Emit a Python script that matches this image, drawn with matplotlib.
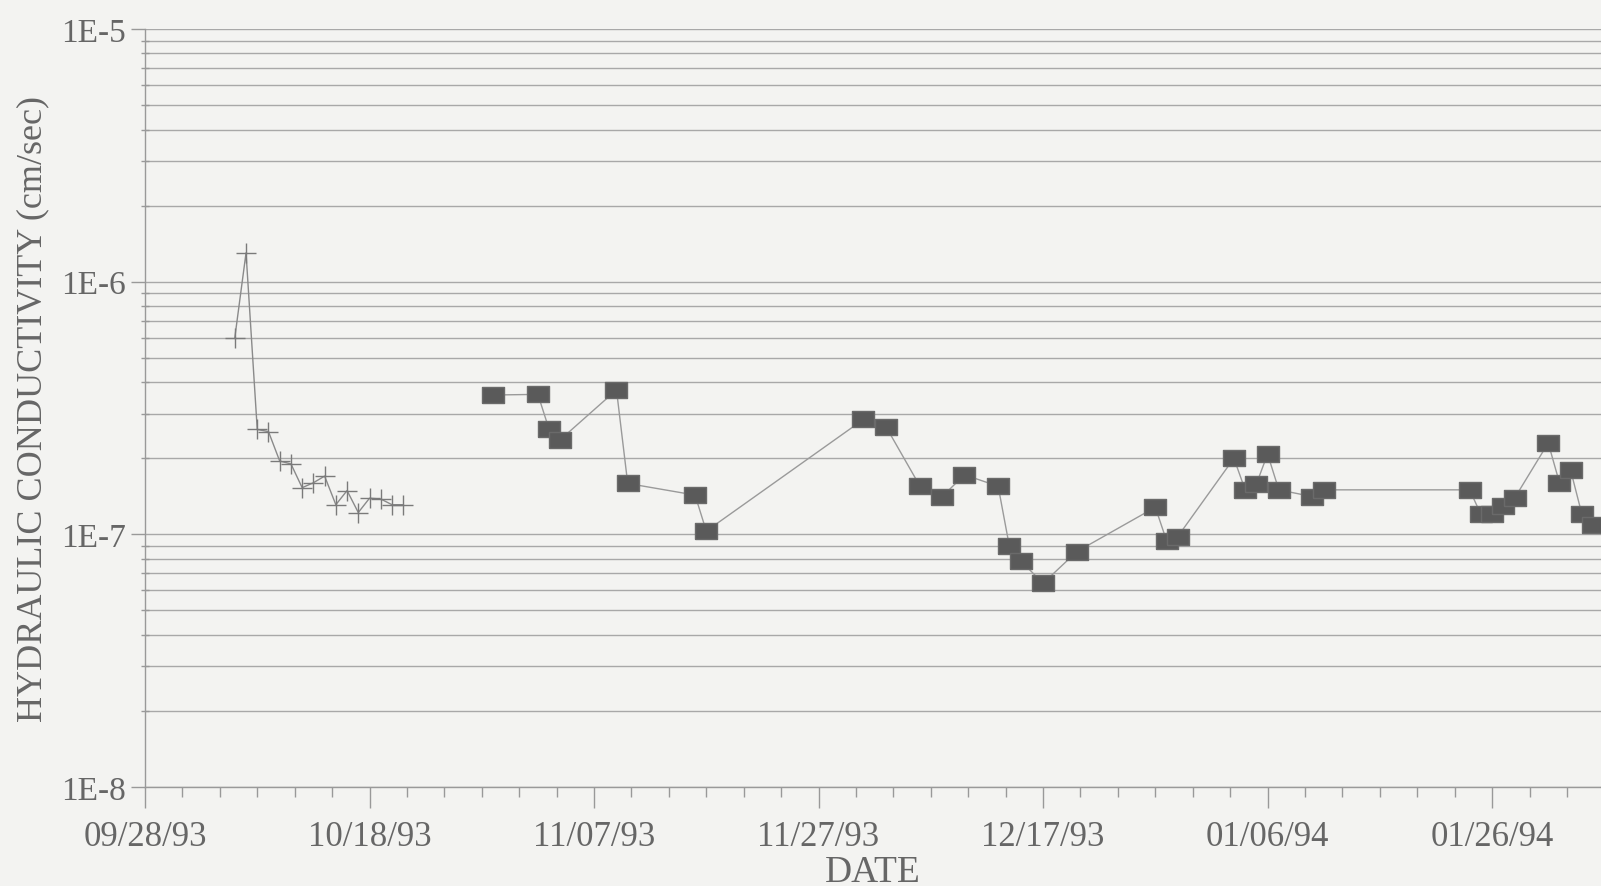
import matplotlib
matplotlib.use("Agg")
import matplotlib.pyplot as plt
import matplotlib.dates as mdates
import matplotlib.ticker as mticker
import numpy as np
import pandas as pd

# ---- data ----
tick_dates = ["1993-09-28", "1993-10-18", "1993-11-07", "1993-11-27",
              "1993-12-17", "1994-01-06", "1994-01-26"]
tick_labels = ["09/28/93", "10/18/93", "11/07/93", "11/27/93",
               "12/17/93", "01/06/94", "01/26/94"]

s1_dates = ["1993-10-06", "1993-10-07", "1993-10-08", "1993-10-09", "1993-10-10",
            "1993-10-11", "1993-10-12", "1993-10-13", "1993-10-14", "1993-10-15",
            "1993-10-16", "1993-10-17", "1993-10-18", "1993-10-19", "1993-10-20",
            "1993-10-21"]
s1_values = [6.0e-7, 1.3e-6, 2.6e-7, 2.55e-7, 1.95e-7, 1.9e-7, 1.53e-7, 1.6e-7,
             1.7e-7, 1.31e-7, 1.49e-7, 1.22e-7, 1.39e-7, 1.38e-7, 1.31e-7, 1.31e-7]

s2_dates = ["1993-10-29", "1993-11-02", "1993-11-03", "1993-11-04", "1993-11-09",
            "1993-11-10", "1993-11-16", "1993-11-17", "1993-12-01", "1993-12-03",
            "1993-12-06", "1993-12-08", "1993-12-10", "1993-12-13", "1993-12-14",
            "1993-12-15", "1993-12-17", "1993-12-20", "1993-12-27", "1993-12-28",
            "1993-12-29", "1994-01-03", "1994-01-04", "1994-01-05", "1994-01-06",
            "1994-01-07", "1994-01-10", "1994-01-11", "1994-01-24", "1994-01-25",
            "1994-01-26", "1994-01-27", "1994-01-28", "1994-01-31", "1994-02-01",
            "1994-02-02", "1994-02-03", "1994-02-04"]
s2_values = [3.56e-7, 3.58e-7, 2.6e-7, 2.37e-7, 3.73e-7, 1.59e-7, 1.43e-7, 1.03e-7,
             2.85e-7, 2.67e-7, 1.56e-7, 1.41e-7, 1.72e-7, 1.55e-7, 8.96e-8, 7.86e-8,
             6.4e-8, 8.54e-8, 1.28e-7, 9.44e-8, 9.8e-8, 2.0e-7, 1.5e-7, 1.58e-7,
             2.08e-7, 1.5e-7, 1.41e-7, 1.5e-7, 1.5e-7, 1.2e-7, 1.2e-7, 1.29e-7,
             1.39e-7, 2.3e-7, 1.6e-7, 1.79e-7, 1.2e-7, 1.09e-7]

# ---- style ----
bg = "#f3f3f1"
txt = "#666666"
grid_c = "#a8a8a8"
font = ["Liberation Serif", "DejaVu Serif"]

plt.rcParams["font.family"] = font

fig = plt.figure(figsize=(16.01, 8.87), dpi=100, facecolor=bg)
ax = fig.add_axes([145 / 1601, 1 - 788 / 887, 1 - 145 / 1601, (788 - 30) / 887])
ax.set_facecolor(bg)

start = pd.Timestamp(tick_dates[0])
ax.set_yscale("log")
ax.set_ylim(1e-8, 1e-5)
ax.set_xlim(start, start + pd.Timedelta(days=129.7))

ax.yaxis.set_major_locator(mticker.LogLocator(base=10, numticks=10))
ax.yaxis.set_minor_locator(mticker.LogLocator(base=10, subs=np.arange(2, 10), numticks=10))
ax.yaxis.set_major_formatter(mticker.FuncFormatter(lambda v, p: "1E%d" % round(np.log10(v))))
ax.yaxis.set_minor_formatter(mticker.NullFormatter())
ax.grid(True, which="both", axis="y", color=grid_c, linewidth=1.0)
ax.set_axisbelow(True)

ax.set_xticks(pd.to_datetime(tick_dates))
ax.set_xticklabels(tick_labels)
minor = [start + pd.Timedelta(days=k * 20 / 6) for k in range(0, 40)]
ax.xaxis.set_minor_locator(mticker.FixedLocator(mdates.date2num(minor)))

for s in ["top", "right"]:
    ax.spines[s].set_visible(False)
for s in ["left", "bottom"]:
    ax.spines[s].set_color("#999999")
    ax.spines[s].set_linewidth(1.0)

ax.tick_params(axis="x", which="major", direction="out", length=15, width=1,
               color="#999999", labelsize=25, labelcolor=txt, pad=9)
ax.tick_params(axis="x", which="minor", direction="out", length=7, width=1, color="#999999")
ax.tick_params(axis="y", which="major", direction="out", length=10, width=1,
               color="#999999", labelsize=24, labelcolor=txt, pad=4)
ax.tick_params(axis="y", which="minor", direction="inout", length=6, width=1, color="#999999")

ax.plot(pd.to_datetime(s1_dates), s1_values, color="#8a8a8a", linewidth=1.0,
        marker="+", markersize=15, markeredgewidth=1.0, markeredgecolor="#7a7a7a",
        zorder=3, clip_on=False)

rect = [(-1, -0.7), (1, -0.7), (1, 0.7), (-1, 0.7), (-1, -0.7)]
ax.plot(pd.to_datetime(s2_dates), s2_values, color="#9a9a9a", linewidth=1.0,
        marker=rect, markersize=16, markerfacecolor="#5a5a5a",
        markeredgecolor="#6a6a6a", markeredgewidth=1.0, zorder=3)

ax.set_xlabel("DATE", fontsize=27, color=txt, labelpad=1)
ax.set_ylabel("HYDRAULIC CONDUCTIVITY (cm/sec)", fontsize=26, color=txt, labelpad=8)

fig.savefig("out.png", dpi=100, facecolor=bg)
